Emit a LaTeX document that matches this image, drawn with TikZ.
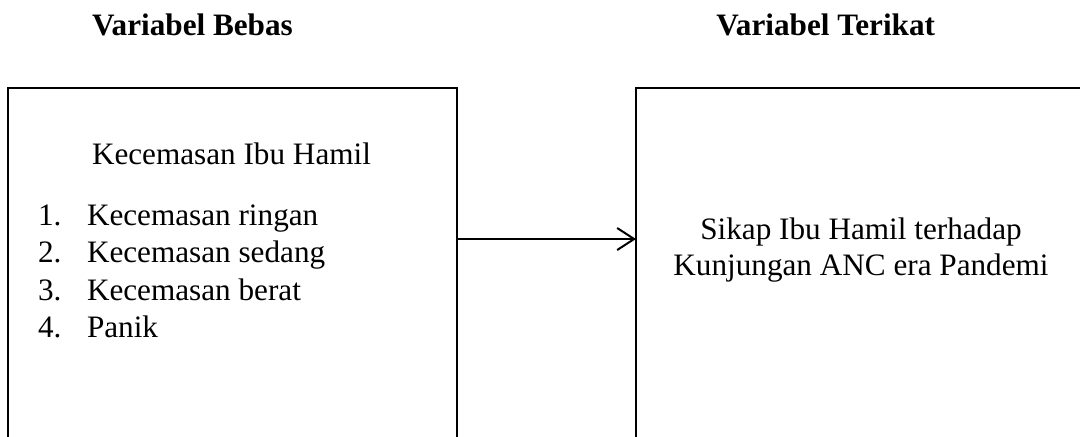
\documentclass[tikz,border=0pt]{standalone}
\usepackage{fontspec}
\setmainfont{Liberation Serif}
\usetikzlibrary{arrows.meta}
\begin{document}
\begin{tikzpicture}[x=0.5pt,y=-0.5pt,
  every node/.style={inner sep=0pt, outer sep=0pt, font=\fontsize{15.6}{18}\selectfont},
  title/.style={font=\fontsize{15.6}{18}\selectfont\bfseries},
  varbox/.style={draw, line width=1pt, minimum height=200pt, anchor=north west},
  link/.style={line width=1pt, -{Straight Barb[length=8.5pt,width=11pt,line width=1pt]}}]
\useasboundingbox (0,0) rectangle (1080,436);
\clip (0,0) rectangle (1080,436);
% headings
\node[title, anchor=base west] (tbebas) at (92,35) {Variabel Bebas};
\node[title, anchor=base east] (tterikat) at (935,35) {Variabel Terikat};
% boxes (open at the bottom of the page)
\node[varbox, minimum width=224.5pt] (lbox) at (8,88) {};
\node[varbox, minimum width=300pt] (rbox) at (636,88) {};
% independent variable
\node[anchor=base west] (lhead) at (92,164) {Kecemasan Ibu Hamil};
\node[anchor=base west] (n1) at (38,225) {1.};
\node[anchor=base west] (i1) at (87,225) {Kecemasan ringan};
\node[anchor=base west] (n2) at (38,262.5) {2.};
\node[anchor=base west] (i2) at (87,262.5) {Kecemasan sedang};
\node[anchor=base west] (n3) at (38,300) {3.};
\node[anchor=base west] (i3) at (87,300) {Kecemasan berat};
\node[anchor=base west] (n4) at (38,337.5) {4.};
\node[anchor=base west] (i4) at (87,337.5) {Panik};
% dependent variable
\node[anchor=base] (r1) at (861,239) {Sikap Ibu Hamil terhadap};
\node[anchor=base] (r2) at (861,275) {Kunjungan ANC era Pandemi};
% relation
\coordinate (ay) at (0,239);
\draw[link] (lbox.east |- ay) -- (rbox.west |- ay);
\end{tikzpicture}
\end{document}
